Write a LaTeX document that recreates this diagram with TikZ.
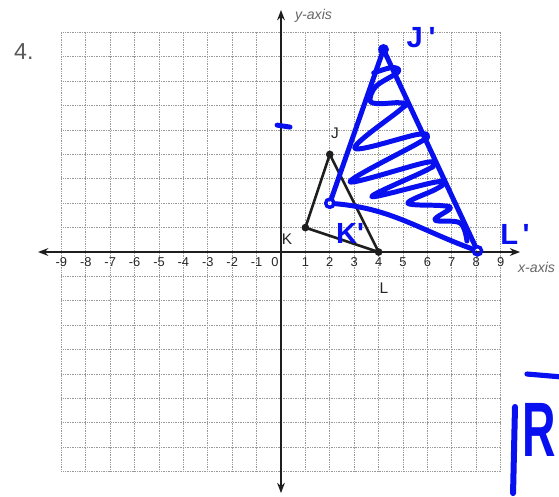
\documentclass[tikz,border=0pt]{standalone}
\usepackage{fontspec}
\setmainfont{Liberation Sans}
\usetikzlibrary{arrows.meta}
\definecolor{ink}{RGB}{8,16,240}
\definecolor{pencil}{RGB}{30,30,30}
\begin{document}
\begin{tikzpicture}[
  gridline/.style={draw=gray!80, densely dotted, line width=1pt},
  axisline/.style={draw=pencil, line width=3pt, {Stealth[length=12pt,width=9pt]}-{Stealth[length=12pt,width=9pt]}},
  triline/.style={draw=pencil, line width=3pt, line join=round},
  vertex/.style={circle, fill=pencil, inner sep=0pt, minimum size=9pt},
  ticklabel/.style={font=\fontsize{15}{15}\selectfont, text=black!85, inner sep=0pt, anchor=base},
  axislabel/.style={font=\itshape\fontsize{16.5}{16}\selectfont, text=black!60, inner sep=0pt, anchor=base west},
  ptlabel/.style={font=\fontsize{18}{18}\selectfont, text=black!85, inner sep=0pt, anchor=base},
  inkline/.style={draw=ink, line width=5.8pt, line cap=round, line join=round},
  inkring/.style={circle, draw=ink, line width=4pt, inner sep=0pt, minimum size=0.34cm},
  inkblob/.style={circle, fill=ink, inner sep=0pt, minimum size=0.45cm},
  inklabel/.style={text=ink, font=\bfseries\fontsize{34}{34}\selectfont, inner sep=0pt},
]
\useasboundingbox (-11.516,-10.0) rectangle (11.393,10.328);

% problem number
\node[font=\fontsize{27}{27}\selectfont, text=black!65, inner sep=0pt, anchor=base west] (num) at (-10.94,7.87) {4.};

% grid
\foreach \i in {-9,...,9} {
  \draw[gridline] (\i,-9) -- (\i,9);
  \draw[gridline] (-9,\i) -- (9,\i);
}

% axes
\coordinate (xl) at (-9.96,0);
\coordinate (xr) at (9.8,0);
\coordinate (yt) at (0,9.92);
\coordinate (yb) at (0,-9.88);
\draw[axisline] (xl) -- (xr);
\draw[axisline] (yb) -- (yt);

% tick labels
\foreach \i in {-9,...,-1} \node[ticklabel] (t\i) at (\i,-0.6) {\i};
\foreach \i in {1,...,9} \node[ticklabel] (t\i) at (\i,-0.6) {\i};
\node[ticklabel] (t0) at (-0.25,-0.6) {0};
\node[axislabel] (xlab) at (9.71,-0.82) {x-axis};
\node[axislabel] (ylab) at (0.57,9.51) {y-axis};

% original triangle
\node[vertex] (J) at (2,4) {};
\node[vertex] (K) at (1,1) {};
\node[vertex] (L) at (4,0) {};
\draw[triline] (J.center) -- (K.center) -- (L.center) -- cycle;
\node[ptlabel] (Jl) at (2.21,4.67) {J};
\node[ptlabel] (Kl) at (0.25,0.29) {K};
\node[ptlabel] (Ll) at (4.22,-1.68) {L};

% handwritten image triangle
\node[inkblob] (Jp) at (4.2,8.3) {};
\node[inkring] (Kp) at (2.0,2.0) {};
\node[inkring] (Lp) at (8.05,0.05) {};
\draw[inkline] (Jp.center) -- (Kp);
\draw[inkline] (Jp.center) -- (Lp);
\draw[inkline] (Kp) to[out=-5,in=160] (Lp);
\draw[inkline] plot[smooth, tension=0.6] coordinates {
  (3.8,7.34) (4.55,7.56) (4.8,7.38) (3.9,6.8) (3.65,6.22) (3.98,6.08)
  (4.8,6.12) (5.14,6.04) (4.85,5.8) (3.03,4.25)
  (5.6,4.82) (6.0,4.72) (5.6,4.45) (2.83,2.88)
  (5.9,3.66) (6.27,3.56) (5.85,3.3) (3.72,2.27)
  (6.3,2.86) (6.64,2.78) (6.3,2.55) (5.2,2.0)
  (6.6,1.9) (6.93,1.78) (6.31,1.31)
  (7.34,1.19) (7.62,0.45)};

\node[inklabel] (Jpl) at (5.74,8.77) {J\hspace{0.2em}\textquotesingle};
\node[inklabel] (Kpl) at (2.83,0.78) {K\textquotesingle};
\node[inklabel] (Lpl) at (9.59,0.70) {L\hspace{0.15em}\textquotesingle};

% blue dash on y-axis
\coordinate (d1) at (-0.16,5.2);
\coordinate (d2) at (0.37,5.12);
\draw[inkline] (d1) -- (d2);

% bottom-right marks
\coordinate (b1) at (9.59,-6.35);
\coordinate (b2) at (9.51,-9.88);
\draw[draw=ink, line width=7pt, line cap=round] (b1) -- (b2);
\coordinate (o1) at (10.08,-5.0);
\coordinate (o2) at (11.5,-5.12);
\draw[draw=ink, line width=6pt, line cap=round] (o1) -- (o2);
\node[text=ink, font=\bfseries\fontsize{90}{90}\selectfont, inner sep=0pt, anchor=base west] (R) at (9.9,-8.4) {\scalebox{0.6}[1]{R}};
\end{tikzpicture}
\end{document}
